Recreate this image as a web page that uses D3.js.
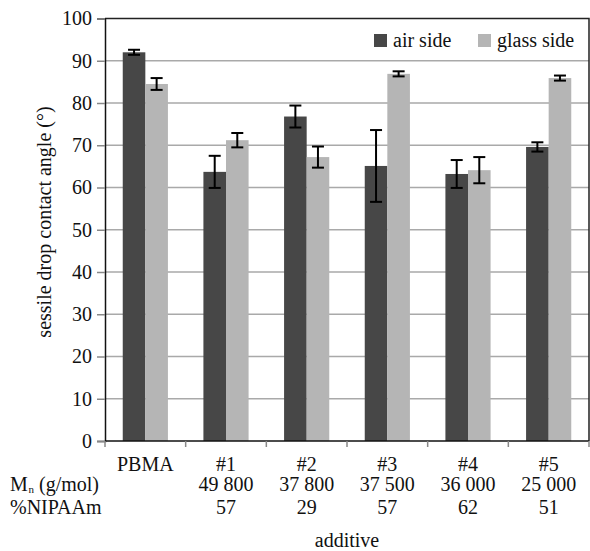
<!DOCTYPE html>
<html>
<head>
<meta charset="utf-8">
<script src="https://cdn.jsdelivr.net/npm/d3@7"></script>
<style>
  body { margin: 0; background: #fff; }
  svg text { font-family: "Liberation Serif", "DejaVu Serif", "Times New Roman", Times, serif !important; fill: #111; }
</style>
</head>
<body>
<div id="chart"></div>
<script>
const categories = ["PBMA", "#1", "#2", "#3", "#4", "#5"];
const mnLabels = ["", "49 800", "37 800", "37 500", "36 000", "25 000"];
const nipaamLabels = ["", "57", "29", "57", "62", "51"];
const series = ["air side", "glass side"];
const airValues = [92.0, 63.7, 76.8, 65.1, 63.2, 69.6];
const airErrors = [0.6, 3.8, 2.6, 8.5, 3.3, 1.1];
const glassValues = [84.5, 71.2, 67.2, 86.9, 64.1, 85.9];
const glassErrors = [1.4, 1.7, 2.5, 0.6, 3.1, 0.6];
const yTicks = [0, 10, 20, 30, 40, 50, 60, 70, 80, 90, 100];

const colors = {"air side": "#474747", "glass side": "#b5b5b5"};

const margin = {top: 18.5, right: 1, bottom: 110, left: 105};
const width = 590 - margin.left - margin.right;
const height = 551 - margin.top - margin.bottom;

const svg = d3.select("#chart")
    .append("svg")
    .attr("width", 590)
    .attr("height", 551)
    .attr("font-family", "Liberation Serif, serif");

const g = svg.append("g")
    .attr("transform", `translate(${margin.left},${margin.top})`);

const x0 = d3.scaleBand()
    .domain(categories)
    .range([0, width])
    .padding(0);

const x1 = d3.scaleBand()
    .domain(series)
    .range([x0.bandwidth() * 0.22, x0.bandwidth() * 0.78]);

const y = d3.scaleLinear()
    .domain([0, 100])
    .range([height, 0]);

// gridlines
g.append("g")
    .selectAll("line")
    .data(yTicks.filter(d => d > 0 && d < 100))
    .enter()
    .append("line")
    .attr("x1", 0)
    .attr("x2", width)
    .attr("y1", d => y(d))
    .attr("y2", d => y(d))
    .attr("stroke", "#a9a9a9")
    .attr("stroke-width", 1.5);

// frame top + right
g.append("path")
    .attr("d", `M0,${y(100)}H${width}V${height}`)
    .attr("fill", "none")
    .attr("stroke", "#222")
    .attr("stroke-width", 1.5);

const rows = categories.map((c, i) => ({
    cat: c,
    vals: [
        {s: "air side", v: airValues[i], e: airErrors[i]},
        {s: "glass side", v: glassValues[i], e: glassErrors[i]}
    ]
}));

const groups = g.selectAll("g.grp")
    .data(rows)
    .enter()
    .append("g")
    .attr("class", "grp")
    .attr("transform", d => `translate(${x0(d.cat)},0)`);

groups.selectAll("rect")
    .data(d => d.vals)
    .enter()
    .append("rect")
    .attr("x", d => x1(d.s))
    .attr("y", d => y(d.v))
    .attr("width", x1.bandwidth())
    .attr("height", d => height - y(d.v))
    .attr("fill", d => colors[d.s]);

// error bars
const eb = groups.selectAll("g.err")
    .data(d => d.vals)
    .enter()
    .append("g")
    .attr("class", "err")
    .attr("stroke", "#000")
    .attr("stroke-width", 2);

const cx = d => x1(d.s) + x1.bandwidth() / 2;
eb.append("line")
    .attr("x1", cx).attr("x2", cx)
    .attr("y1", d => y(d.v + d.e)).attr("y2", d => y(d.v - d.e));
eb.append("line")
    .attr("x1", d => cx(d) - 6).attr("x2", d => cx(d) + 6)
    .attr("y1", d => y(d.v + d.e)).attr("y2", d => y(d.v + d.e));
eb.append("line")
    .attr("x1", d => cx(d) - 6).attr("x2", d => cx(d) + 6)
    .attr("y1", d => y(d.v - d.e)).attr("y2", d => y(d.v - d.e));

// y axis
const yAxis = g.append("g")
    .call(d3.axisLeft(y).tickValues(yTicks).tickSize(8).tickPadding(5));
yAxis.attr("font-family", null).attr("font-size", null);
yAxis.select(".domain").attr("stroke", "#111").attr("stroke-width", 1.5);
yAxis.selectAll(".tick line").attr("stroke", "#888").attr("stroke-width", 1.5);
yAxis.selectAll("text")
    .style("font-size", "20px")
    .attr("fill", "#111");

// x axis: ticks at band boundaries
const xb = g.append("g").attr("transform", `translate(0,${height})`);
xb.append("line")
    .attr("x1", 0).attr("x2", width)
    .attr("stroke", "#111").attr("stroke-width", 1.5);
xb.selectAll("line.tk")
    .data(categories.concat(["end"]))
    .enter()
    .append("line")
    .attr("class", "tk")
    .attr("x1", (d, i) => i * x0.step())
    .attr("x2", (d, i) => i * x0.step())
    .attr("y1", 0).attr("y2", 6)
    .attr("stroke", "#888").attr("stroke-width", 1.5);

// three label rows under each group
const rowOffsets = [30, 50, 73];
const labelRows = [categories, mnLabels, nipaamLabels];
labelRows.forEach((arr, r) => {
    xb.selectAll(`text.r${r}`)
        .data(arr)
        .enter()
        .append("text")
        .attr("class", `r${r}`)
        .attr("x", (d, i) => x0(categories[i]) + x0.bandwidth() / 2)
        .attr("y", rowOffsets[r])
        .attr("text-anchor", "middle")
        .style("font-size", "20px")
        .text(d => d);
});

// row labels
svg.append("text")
    .attr("x", 10)
    .attr("y", margin.top + height + rowOffsets[1])
    .style("font-size", "20px")
    .text("M");
svg.append("text")
    .attr("x", 28.5)
    .attr("y", margin.top + height + rowOffsets[1] + 2)
    .style("font-size", "11px")
    .text("n");
svg.append("text")
    .attr("x", 39)
    .attr("y", margin.top + height + rowOffsets[1])
    .style("font-size", "20px")
    .text("(g/mol)");

svg.append("text")
    .attr("x", 10)
    .attr("y", margin.top + height + rowOffsets[2])
    .style("font-size", "20px")
    .text("%NIPAAm");

// x title
svg.append("text")
    .attr("x", margin.left + width / 2)
    .attr("y", 547)
    .attr("text-anchor", "middle")
    .style("font-size", "20px")
    .text("additive");

// y title
svg.append("text")
    .attr("transform", "translate(51,222) rotate(-90)")
    .attr("text-anchor", "middle")
    .style("font-size", "20px")
    .text("sessile drop contact angle (°)");

// legend
const legend = svg.append("g");
const legendX = [374, 478];
series.forEach((s, i) => {
    legend.append("rect")
        .attr("x", legendX[i])
        .attr("y", 34)
        .attr("width", 13)
        .attr("height", 13)
        .attr("fill", colors[s]);
    legend.append("text")
        .attr("x", legendX[i] + 19)
        .attr("y", 47)
        .style("font-size", "20px")
        .text(s);
});
</script>
</body>
</html>
